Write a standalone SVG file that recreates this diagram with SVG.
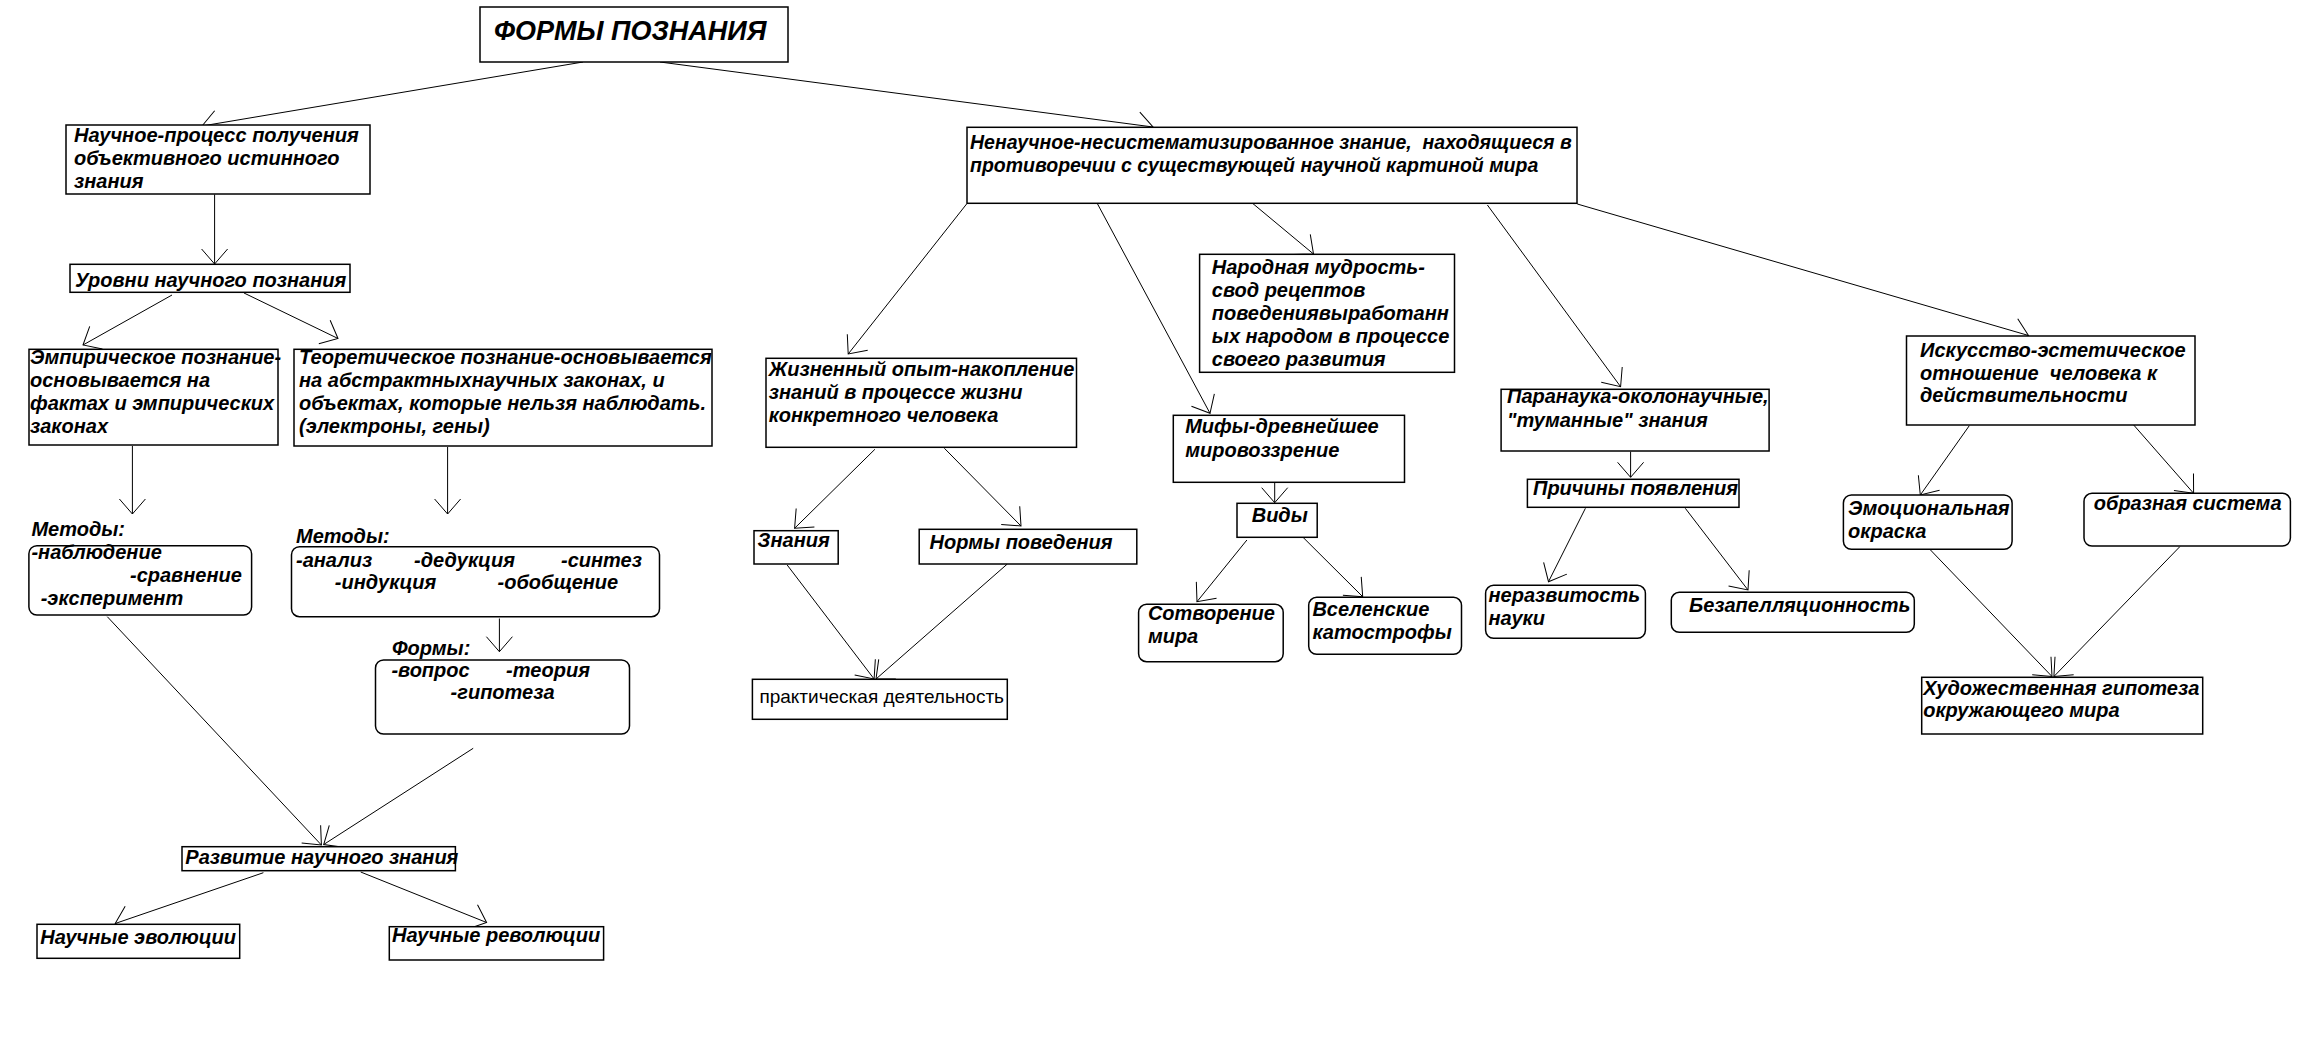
<svg xmlns="http://www.w3.org/2000/svg" width="2309" height="1061" viewBox="0 0 2309 1061">
<style>
.b{fill:#fff;stroke:#000;stroke-width:1.5}
.t{font-family:"Liberation Sans",Arial,sans-serif;font-size:20px;font-weight:bold;font-style:italic;fill:#000}
.r{font-family:"Liberation Sans",Arial,sans-serif;font-size:19px;fill:#000}
.h{font-size:27px}
.s{font-size:19.5px}
#conn line{stroke:#000;stroke-width:1;marker-end:url(#ah)}
</style>
<defs>
<marker id="ah" markerUnits="userSpaceOnUse" markerWidth="30" markerHeight="30" refX="0" refY="0" orient="auto" overflow="visible">
<path d="M-15,-13 L0,0 L-15,13" fill="none" stroke="#000" stroke-width="1"/>
</marker>
</defs>
<rect width="2309" height="1061" fill="#fff"/>
<g id="conn">
<line x1="583" y1="62" x2="202" y2="126"/>
<line x1="660" y1="62" x2="1153" y2="127"/>
<line x1="214.6" y1="194.5" x2="214.6" y2="264"/>
<line x1="172" y1="295" x2="83" y2="345"/>
<line x1="244" y1="293" x2="338" y2="338.5"/>
<line x1="132.4" y1="446" x2="132.4" y2="514"/>
<line x1="447.6" y1="447" x2="447.6" y2="514"/>
<line x1="499.4" y1="618.5" x2="499.4" y2="651.7"/>
<line x1="107.3" y1="616.7" x2="321.4" y2="845"/>
<line x1="473.2" y1="748.3" x2="323.7" y2="844.5"/>
<line x1="263.4" y1="872.7" x2="115.2" y2="923.5"/>
<line x1="360.7" y1="872" x2="486.6" y2="922.5"/>
<line x1="966.6" y1="204" x2="848.2" y2="354"/>
<line x1="874.9" y1="449.3" x2="794.6" y2="528.3"/>
<line x1="944.4" y1="448.3" x2="1021" y2="526"/>
<line x1="787.2" y1="565" x2="874.1" y2="679"/>
<line x1="1007.3" y1="564" x2="876" y2="679"/>
<line x1="1097.2" y1="203.3" x2="1210" y2="413.3"/>
<line x1="1274.7" y1="482.3" x2="1274.7" y2="502.7"/>
<line x1="1246.9" y1="540" x2="1197" y2="601.7"/>
<line x1="1302.4" y1="536.7" x2="1362.7" y2="596.7"/>
<line x1="1250.6" y1="201.7" x2="1313.5" y2="254"/>
<line x1="1487.4" y1="205" x2="1620.6" y2="386.7"/>
<line x1="1630.6" y1="451.7" x2="1630.6" y2="477.3"/>
<line x1="1585.4" y1="508.3" x2="1548.5" y2="581.7"/>
<line x1="1685.3" y1="508.3" x2="1748" y2="590"/>
<line x1="1577.3" y1="204" x2="2028.5" y2="335.5"/>
<line x1="1969.3" y1="425.7" x2="1920.3" y2="495"/>
<line x1="2133.7" y1="425" x2="2193.6" y2="493.3"/>
<line x1="1930.5" y1="550" x2="2052" y2="676.5"/>
<line x1="2179.8" y1="546.7" x2="2053.9" y2="676.5"/>
</g>
<g id="title"><rect class="b" x="480" y="7" width="308" height="55"/><text class="t h" x="494" y="40">ФОРМЫ ПОЗНАНИЯ</text></g>
<g id="nauchnoe"><rect class="b" x="66" y="125" width="304" height="69"/><text class="t" x="74"><tspan x="74" y="142">Научное-процесс получения</tspan><tspan x="74" y="165">объективного истинного</tspan><tspan x="74" y="188">знания</tspan></text></g>
<g id="nenauchnoe"><rect class="b" x="967" y="127.3" width="610" height="76"/><text class="t s" x="970" xml:space="preserve"><tspan x="970" y="149">Ненаучное-несистематизированное знание,  находящиеся в</tspan><tspan x="970" y="172">противоречии с существующей научной картиной мира</tspan></text></g>
<g id="urovni"><rect class="b" x="70" y="264.3" width="280" height="28"/><text class="t" x="75" y="286.5">Уровни научного познания</text></g>
<g id="empir"><rect class="b" x="29" y="349.3" width="249" height="95.7"/><text class="t"><tspan x="30" y="363.5">Эмпирическое познание-</tspan><tspan x="30" y="386.7">основывается на</tspan><tspan x="30" y="410">фактах и эмпирических</tspan><tspan x="30" y="433.3">законах</tspan></text></g>
<g id="teor"><rect class="b" x="294" y="349.3" width="418" height="96.7"/><text class="t"><tspan x="299" y="363.5">Теоретическое познание-основывается</tspan><tspan x="299" y="386.7">на абстрактныхнаучных законах, и</tspan><tspan x="299" y="410">объектах, которые нельзя наблюдать.</tspan><tspan x="299" y="433.3">(электроны, гены)</tspan></text></g>
<g id="metody1"><text class="t" x="31.4" y="535.7">Методы:</text><rect class="b" x="28.9" y="545.7" width="222.7" height="69.3" rx="8"/><text class="t"><tspan x="31.4" y="559">-наблюдение</tspan><tspan x="130" y="581.7">-сравнение</tspan><tspan x="40.7" y="605">-эксперимент</tspan></text></g>
<g id="metody2"><text class="t" x="296" y="543.3">Методы:</text><rect class="b" x="291.5" y="546.7" width="368" height="70" rx="8"/><text class="t"><tspan x="296" y="566.7">-анализ</tspan><tspan x="414" y="566.7">-дедукция</tspan><tspan x="561" y="566.7">-синтез</tspan><tspan x="334.8" y="589.3">-индукция</tspan><tspan x="497.6" y="589.3">-обобщение</tspan></text></g>
<g id="formy"><text class="t" x="392" y="655">Формы:</text><rect class="b" x="375.5" y="660" width="254" height="74" rx="8"/><text class="t"><tspan x="391.4" y="677.3">-вопрос</tspan><tspan x="506" y="677.3">-теория</tspan><tspan x="450.6" y="699.3">-гипотеза</tspan></text></g>
<g id="razvitie"><rect class="b" x="182" y="846.7" width="273.4" height="24"/><text class="t" x="185.3" y="864">Развитие научного знания</text></g>
<g id="evol"><rect class="b" x="37" y="924.3" width="202.7" height="34"/><text class="t" x="40.2" y="944">Научные эволюции</text></g>
<g id="revol"><rect class="b" x="389.3" y="926.7" width="214.3" height="33.3"/><text class="t" x="392" y="941.7">Научные революции</text></g>
<g id="zhizn"><rect class="b" x="766" y="358.3" width="310.5" height="89"/><text class="t"><tspan x="768.7" y="376">Жизненный опыт-накопление</tspan><tspan x="768.7" y="399.3">знаний в процессе жизни</tspan><tspan x="768.7" y="421.7">конкретного человека</tspan></text></g>
<g id="znania"><rect class="b" x="754" y="530.7" width="84.2" height="33.3"/><text class="t" x="757.6" y="547.3">Знания</text></g>
<g id="normy"><rect class="b" x="919.2" y="529.3" width="217.6" height="34.7"/><text class="t" x="929.6" y="549">Нормы поведения</text></g>
<g id="prakt"><rect class="b" x="752.4" y="679.3" width="254.9" height="40"/><text class="r" x="759.4" y="703.3">практическая деятельность</text></g>
<g id="narod"><rect class="b" x="1199.6" y="254.3" width="254.9" height="118"/><text class="t"><tspan x="1211.8" y="274">Народная мудрость-</tspan><tspan x="1211.8" y="297">свод рецептов</tspan><tspan x="1211.8" y="320">поведениявыработанн</tspan><tspan x="1211.8" y="343">ых народом в процессе</tspan><tspan x="1211.8" y="366">своего развития</tspan></text></g>
<g id="mify"><rect class="b" x="1173.3" y="415.3" width="231.2" height="67"/><text class="t"><tspan x="1185.2" y="433.3">Мифы-древнейшее</tspan><tspan x="1185.2" y="456.7">мировоззрение</tspan></text></g>
<g id="vidy"><rect class="b" x="1237" y="503.3" width="80.2" height="34"/><text class="t" x="1251.7" y="521.7">Виды</text></g>
<g id="sotvor"><rect class="b" x="1138.6" y="604.3" width="144.6" height="57.4" rx="8"/><text class="t"><tspan x="1147.9" y="620">Сотворение</tspan><tspan x="1147.9" y="643.3">мира</tspan></text></g>
<g id="vselen"><rect class="b" x="1308.7" y="597.3" width="152.8" height="57" rx="8"/><text class="t"><tspan x="1312.4" y="616">Вселенские</tspan><tspan x="1312.4" y="639.3">катострофы</tspan></text></g>
<g id="paranauka"><rect class="b" x="1501.1" y="389.3" width="268" height="61.7"/><text class="t"><tspan x="1507" y="403.3">Паранаука-околонаучные,</tspan><tspan x="1507" y="426.7">"туманные" знания</tspan></text></g>
<g id="prichiny"><rect class="b" x="1527.4" y="479.3" width="211.6" height="28"/><text class="t" x="1533" y="495">Причины появления</text></g>
<g id="nerazv"><rect class="b" x="1485.6" y="585.3" width="159.8" height="53" rx="8"/><text class="t"><tspan x="1488.5" y="601.7">неразвитость</tspan><tspan x="1488.5" y="625">науки</tspan></text></g>
<g id="bezap"><rect class="b" x="1671.3" y="592.3" width="243" height="40" rx="8"/><text class="t" x="1689" y="611.7">Безапелляционность</text></g>
<g id="iskusstvo"><rect class="b" x="1906.5" y="336" width="288.5" height="89"/><text class="t" xml:space="preserve"><tspan x="1920" y="357.3">Искусство-эстетическое</tspan><tspan x="1920" y="380">отношение  человека к</tspan><tspan x="1920" y="402.3">действительности</tspan></text></g>
<g id="emoc"><rect class="b" x="1843.4" y="495" width="168.7" height="54.3" rx="8"/><text class="t"><tspan x="1848.1" y="515">Эмоциональная</tspan><tspan x="1848.1" y="538.3">окраска</tspan></text></g>
<g id="obraz"><rect class="b" x="2084" y="493.3" width="206.4" height="52.7" rx="8"/><text class="t" x="2093.8" y="510">образная система</text></g>
<g id="hud"><rect class="b" x="1921.7" y="677.3" width="281" height="56.7"/><text class="t"><tspan x="1923.2" y="695">Художественная гипотеза</tspan><tspan x="1923.2" y="717.3">окружающего мира</tspan></text></g>
</svg>
